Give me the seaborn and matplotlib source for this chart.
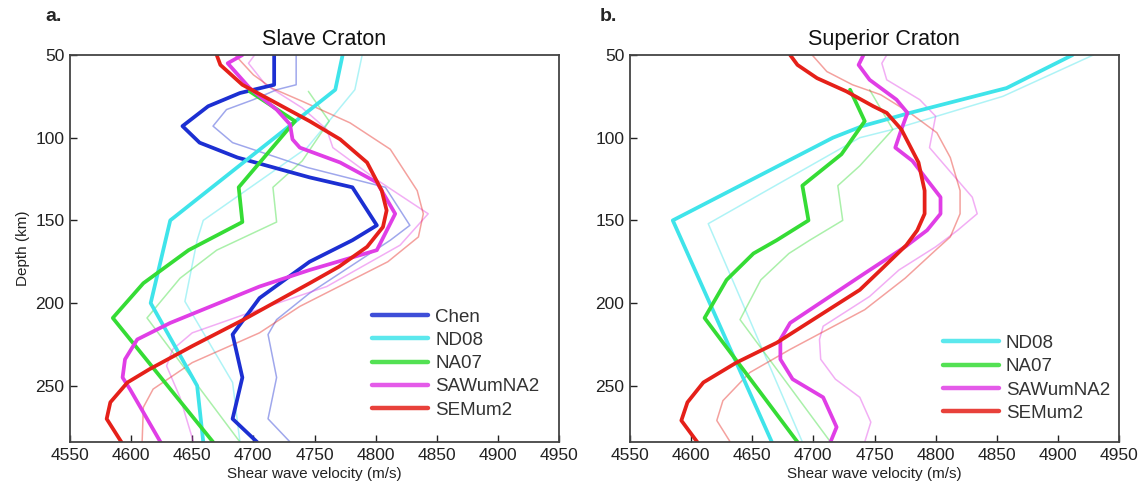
import matplotlib
matplotlib.use("Agg")
import matplotlib.pyplot as plt
import seaborn as sns
import pandas as pd

# ---------------- data (velocity m/s, depth km) ----------------
# Slave Craton (panel a) - thick curves
slave_chen_d = [50, 68, 73, 81, 93, 103, 112, 124, 130, 153, 162, 175, 197, 219, 245, 270, 284]
slave_chen_v = [4717, 4717, 4689, 4663, 4642, 4656, 4687, 4746, 4781, 4801, 4781, 4746, 4705, 4683, 4691, 4683, 4703]
slave_nd08_d = [50, 71, 150, 200, 250, 284]
slave_nd08_v = [4773, 4767, 4632, 4616, 4654, 4659]
slave_na07_d = [72, 90, 130, 151, 168, 188, 209, 284]
slave_na07_v = [4697, 4734, 4688, 4691, 4647, 4610, 4585, 4667]
slave_saw_d = [50, 55, 70, 83, 92, 101, 106, 115, 127, 146, 168, 180, 190, 212, 222, 234, 245, 252, 284]
slave_saw_v = [4691, 4679, 4697, 4719, 4730, 4732, 4738, 4771, 4801, 4816, 4801, 4746, 4705, 4632, 4605, 4595, 4593, 4599, 4624]
slave_sem_d = [50, 56, 68, 78, 90, 101, 115, 132, 144, 154, 166, 178, 188, 210, 226, 240, 248, 260, 270, 284]
slave_sem_v = [4670, 4673, 4691, 4716, 4746, 4771, 4793, 4805, 4809, 4806, 4793, 4770, 4746, 4692, 4650, 4615, 4597, 4583, 4580, 4592]
# Slave Craton - thin (faded) curves
slave_chen2_d = [50, 68, 71, 77, 83, 93, 103, 118, 130, 153, 162, 194, 210, 219, 245, 270, 284]
slave_chen2_v = [4735, 4735, 4719, 4700, 4678, 4667, 4683, 4744, 4808, 4828, 4812, 4746, 4719, 4712, 4719, 4712, 4730]
slave_nd082_d = [50, 71, 106, 150, 162, 199, 248, 284]
slave_nd082_v = [4789, 4783, 4744, 4659, 4654, 4644, 4683, 4689]
slave_na072_d = [72, 90, 114, 130, 151, 168, 185, 209, 284]
slave_na072_v = [4745, 4762, 4740, 4716, 4719, 4670, 4640, 4613, 4689]
slave_saw2_d = [50, 55, 68, 82, 95, 106, 125, 146, 165, 190, 205, 218, 228, 238, 257, 284]
slave_saw2_v = [4701, 4696, 4710, 4740, 4760, 4765, 4800, 4843, 4820, 4760, 4700, 4650, 4634, 4629, 4640, 4651]
slave_sem2_d = [50, 62, 70, 78, 91, 107, 132, 146, 160, 175, 190, 202, 218, 236, 252, 263, 284]
slave_sem2_v = [4685, 4700, 4715, 4740, 4779, 4812, 4834, 4839, 4835, 4810, 4770, 4738, 4705, 4650, 4618, 4610, 4609]

# Superior Craton (panel b) - thick curves
sup_nd08_d = [50, 70, 85, 93, 100, 150, 284]
sup_nd08_v = [4912, 4858, 4779, 4740, 4716, 4585, 4666]
sup_na07_d = [71, 90, 110, 129, 150, 162, 170, 186, 209, 284]
sup_na07_v = [4730, 4742, 4723, 4691, 4696, 4670, 4651, 4629, 4611, 4687]
sup_saw_d = [50, 56, 65, 77, 85, 95, 106, 114, 136, 146, 156, 166, 182, 212, 222, 234, 246, 257, 275, 284]
sup_saw_v = [4741, 4737, 4746, 4768, 4777, 4772, 4767, 4781, 4804, 4804, 4793, 4775, 4742, 4681, 4673, 4673, 4683, 4708, 4719, 4714]
sup_sem_d = [50, 56, 64, 72, 81, 85, 95, 115, 132, 146, 156, 165, 180, 192, 224, 236, 248, 260, 271, 284]
sup_sem_v = [4681, 4687, 4703, 4727, 4749, 4760, 4772, 4786, 4791, 4791, 4785, 4776, 4755, 4738, 4670, 4637, 4610, 4597, 4592, 4605]
# Superior Craton - thin (faded) curves
sup_nd082_d = [50, 75, 95, 100, 152, 284]
sup_nd082_v = [4929, 4855, 4765, 4738, 4614, 4691]
sup_na072_d = [71, 95, 117, 129, 150, 162, 170, 186, 210, 284]
sup_na072_v = [4746, 4765, 4738, 4720, 4724, 4697, 4680, 4657, 4640, 4714]
sup_saw2_d = [50, 55, 65, 77, 87, 106, 136, 146, 156, 166, 180, 196, 214, 222, 234, 246, 257, 272, 284]
sup_saw2_v = [4760, 4756, 4760, 4787, 4800, 4795, 4830, 4834, 4818, 4800, 4770, 4746, 4708, 4705, 4706, 4718, 4738, 4747, 4742]
sup_sem2_d = [50, 60, 68, 74, 85, 97, 112, 132, 146, 160, 168, 185, 204, 228, 242, 259, 271, 284]
sup_sem2_v = [4699, 4711, 4732, 4755, 4779, 4801, 4812, 4820, 4820, 4812, 4800, 4775, 4742, 4681, 4648, 4626, 4621, 4632]

x_ticks = [4550, 4600, 4650, 4700, 4750, 4800, 4850, 4900, 4950]
y_ticks = [50, 100, 150, 200, 250]
titles = ["Slave Craton", "Superior Craton"]
panel_labels = ["a.", "b."]

colors = {"Chen": "#1c2fd2", "ND08": "#3fe4ea", "NA07": "#35dc35",
          "SAWumNA2": "#e03ee6", "SEMum2": "#e52019"}

slave_thin = [("Chen", slave_chen2_v, slave_chen2_d), ("ND08", slave_nd082_v, slave_nd082_d),
              ("NA07", slave_na072_v, slave_na072_d), ("SAWumNA2", slave_saw2_v, slave_saw2_d),
              ("SEMum2", slave_sem2_v, slave_sem2_d)]
slave_thick = [("Chen", slave_chen_v, slave_chen_d), ("ND08", slave_nd08_v, slave_nd08_d),
               ("NA07", slave_na07_v, slave_na07_d), ("SAWumNA2", slave_saw_v, slave_saw_d),
               ("SEMum2", slave_sem_v, slave_sem_d)]
sup_thin = [("ND08", sup_nd082_v, sup_nd082_d), ("NA07", sup_na072_v, sup_na072_d),
            ("SAWumNA2", sup_saw2_v, sup_saw2_d), ("SEMum2", sup_sem2_v, sup_sem2_d)]
sup_thick = [("ND08", sup_nd08_v, sup_nd08_d), ("NA07", sup_na07_v, sup_na07_d),
             ("SAWumNA2", sup_saw_v, sup_saw_d), ("SEMum2", sup_sem_v, sup_sem_d)]

# ---------------- style ----------------
sns.set_theme(style="white")
plt.rcParams["font.family"] = ["Liberation Sans", "DejaVu Sans"]

fig = plt.figure(figsize=(11.48, 4.97), dpi=100)
axes = [fig.add_axes([70 / 1148, 55 / 497, 489 / 1148, 387 / 497]),
        fig.add_axes([630 / 1148, 55 / 497, 489 / 1148, 387 / 497])]

panels = [(slave_thin, slave_thick), (sup_thin, sup_thick)]
legend_anchor = [(0.618, 0.06), (0.640, 0.052)]

for i, (ax, (thin, thick)) in enumerate(zip(axes, panels)):
    for name, v, d in thin:
        df = pd.DataFrame({"velocity": v, "depth": d})
        sns.lineplot(data=df, x="velocity", y="depth", sort=False, estimator=None,
                     color=colors[name], lw=1.1, alpha=0.42, ax=ax, legend=False)
    for name, v, d in thick:
        df = pd.DataFrame({"velocity": v, "depth": d})
        sns.lineplot(data=df, x="velocity", y="depth", sort=False, estimator=None,
                     color=colors[name], lw=2.7, ax=ax, label=name)
    ax.set_xlim(4550, 4950)
    ax.set_ylim(284, 50)
    ax.set_xticks(x_ticks)
    ax.set_yticks(y_ticks)
    ax.tick_params(direction="in", length=5, width=1, labelsize=12.5, colors="#222222",
                   pad=4, top=False, right=False, bottom=True, left=True)
    for s in ax.spines.values():
        s.set_color("#444444")
        s.set_linewidth(1.3)
    ax.set_xlabel("Shear wave velocity (m/s)", fontsize=11, color="#222222", labelpad=3)
    if i == 0:
        ax.set_ylabel("Depth (km)", fontsize=11, color="#222222", labelpad=4)
    else:
        ax.set_ylabel("")
    ax.set_title(titles[i], fontsize=15.5, x=0.52, pad=7, color="#111111")
    leg = ax.legend(loc="lower left", bbox_to_anchor=legend_anchor[i], frameon=False,
                    fontsize=13.5, handlelength=3.0, handletextpad=0.35,
                    labelspacing=0.33, borderpad=0, borderaxespad=0)
    for t in leg.get_texts():
        t.set_color("#333333")
    for h in leg.get_lines():
        h.set_linewidth(3.2)
        h.set_alpha(0.85)

fig.text(45 / 1148, 1 - 8 / 497, panel_labels[0], fontsize=14, fontweight="bold", va="top", ha="left")
fig.text(600 / 1148, 1 - 8 / 497, panel_labels[1], fontsize=14, fontweight="bold", va="top", ha="left")

fig.savefig("out.png", dpi=100)
